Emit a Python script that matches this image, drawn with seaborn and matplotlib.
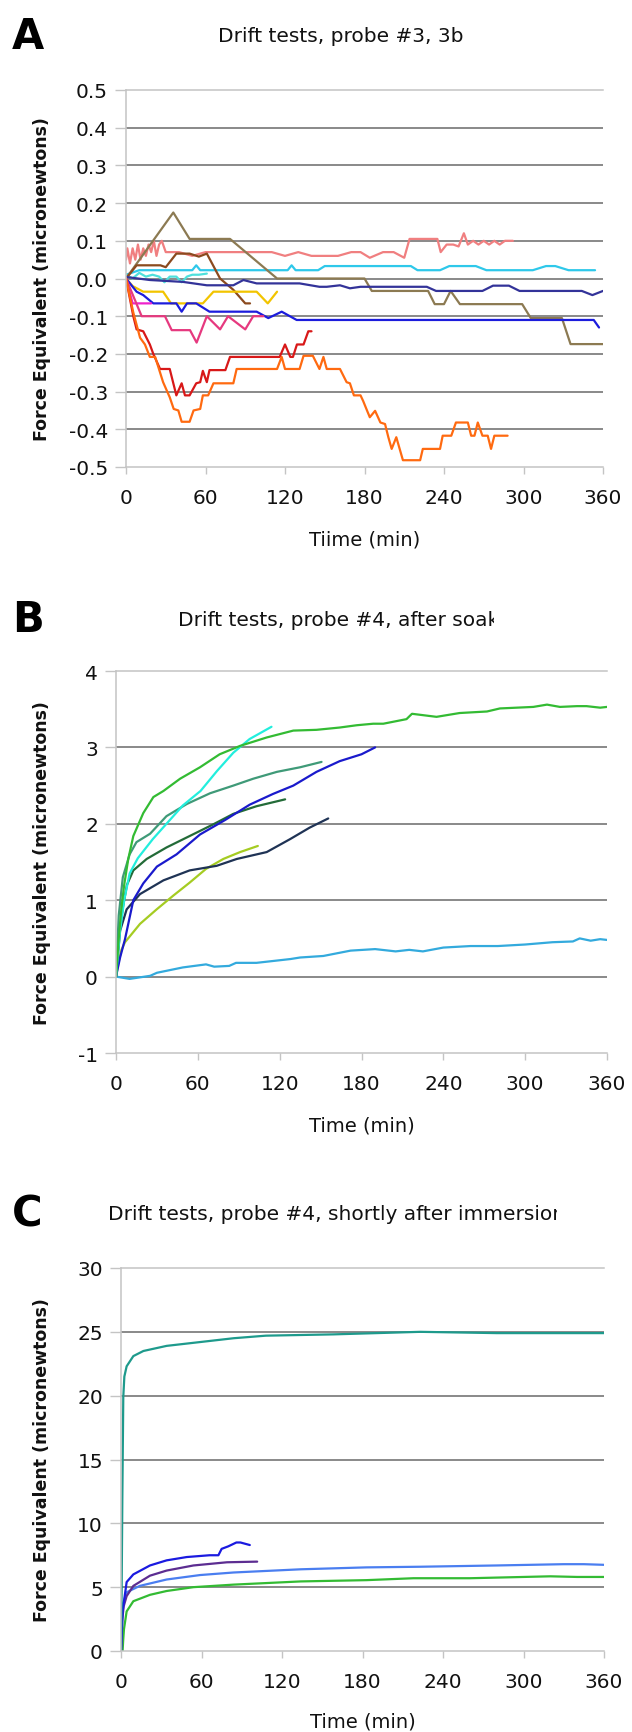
import pandas as pd
import seaborn as sns
from matplotlib import pyplot as plt
from matplotlib.patches import Rectangle

# ---------------- panel A: probe #3, 3b ----------------
a_salmon_t = [0, 1, 3, 5, 7, 9, 11, 13, 15, 17, 19, 21, 23, 25, 27, 30, 35, 40, 50, 60, 70, 80, 90,
              100, 110, 120, 130, 140, 150, 160, 170, 177, 184, 194, 202, 210, 214, 235, 237.5, 242,
              247, 251, 255, 258, 262, 266, 270, 274, 278, 282, 286, 292]
a_salmon_v = [0.05, 0.08, 0.04, 0.08, 0.05, 0.09, 0.05, 0.08, 0.06, 0.09, 0.07, 0.10, 0.06, 0.09, 0.10,
              0.07, 0.07, 0.07, 0.06, 0.07, 0.07, 0.07, 0.07, 0.07, 0.07, 0.06, 0.07, 0.06, 0.06, 0.06,
              0.07, 0.07, 0.055, 0.07, 0.07, 0.055, 0.105, 0.105, 0.07, 0.09, 0.09, 0.085, 0.12, 0.09,
              0.10, 0.09, 0.10, 0.09, 0.10, 0.09, 0.10, 0.10]
a_cyan_t = [0, 10, 50, 53, 56, 122, 125, 128, 145, 150, 215, 220, 237, 244, 264, 272, 307, 317, 324, 334, 354]
a_cyan_v = [0.01, 0.022, 0.022, 0.035, 0.022, 0.022, 0.035, 0.022, 0.022, 0.033, 0.033, 0.022, 0.022,
            0.033, 0.033, 0.022, 0.022, 0.033, 0.033, 0.022, 0.022]
a_turq_t = [0, 5, 10, 15, 20, 25, 29, 33, 38, 42, 46, 50, 55, 61]
a_turq_v = [0.01, 0.0, 0.015, 0.005, 0.01, 0.005, -0.01, 0.005, 0.005, -0.01, 0.005, 0.01, 0.01, 0.013]
a_olive_t = [0, 35.7, 48, 78.5, 114, 180, 185.5, 228, 233, 240, 245, 252, 299, 305.5, 329, 335.5, 360]
a_olive_v = [0, 0.175, 0.105, 0.105, 0.0, 0.0, -0.033, -0.033, -0.068, -0.068, -0.033, -0.068, -0.068,
             -0.105, -0.105, -0.174, -0.174]
a_brown_t = [0, 8, 15, 20, 26, 30, 38, 48, 55, 61, 71, 81, 90, 93.6]
a_brown_v = [0, 0.035, 0.035, 0.035, 0.035, 0.03, 0.066, 0.066, 0.058, 0.066, 0.0, -0.03, -0.066, -0.066]
a_navy_t = [0, 18, 43, 61, 81, 88.6, 98.6, 131, 146, 151.5, 161.5, 169, 177, 227, 234, 269, 277, 289,
            297, 344, 352, 360]
a_navy_v = [0.004, -0.004, -0.009, -0.018, -0.018, -0.004, -0.013, -0.013, -0.022, -0.022, -0.018,
            -0.026, -0.022, -0.022, -0.033, -0.033, -0.019, -0.019, -0.033, -0.033, -0.044, -0.033]
a_blue_t = [0, 8, 13, 20.6, 38, 42, 46, 53, 63, 98.6, 107.4, 117.5, 128.8, 353, 357]
a_blue_v = [0, -0.035, -0.044, -0.066, -0.066, -0.088, -0.066, -0.066, -0.088, -0.088, -0.105, -0.088,
            -0.11, -0.11, -0.13]
a_yellow_t = [0, 5, 13, 28, 34, 58, 66, 98.6, 107, 114]
a_yellow_v = [0, -0.02, -0.035, -0.035, -0.066, -0.066, -0.035, -0.035, -0.066, -0.035]
a_magenta_t = [0, 5, 19]
a_magenta_v = [0, -0.066, -0.066]
a_pink_t = [0, 11.8, 29.4, 34.5, 48.3, 53.3, 61, 71, 77, 90, 96, 103.7]
a_pink_v = [0, -0.1, -0.1, -0.137, -0.137, -0.17, -0.1, -0.135, -0.1, -0.135, -0.1, -0.1]
a_red_t = [0, 5.5, 8, 13, 18, 20.6, 25.7, 33, 38, 42, 44.5, 48, 53, 56, 58, 61, 63, 75, 78.5, 116,
           120, 124, 126, 129, 134, 137.6, 140]
a_red_v = [0, -0.1, -0.135, -0.14, -0.175, -0.2, -0.24, -0.24, -0.31, -0.278, -0.31, -0.31, -0.278,
           -0.275, -0.245, -0.275, -0.243, -0.243, -0.208, -0.208, -0.175, -0.208, -0.208, -0.175,
           -0.175, -0.14, -0.14]
a_orange_t = [0, 5.5, 10.6, 14.3, 18, 22, 28, 33, 36, 39.5, 42, 48, 51, 56, 58, 62, 66, 81, 83.5, 114,
              117.5, 120, 131, 134, 141, 146, 149, 151.5, 161.5, 166.5, 169, 172, 177, 179, 182, 184,
              188, 192, 195.5, 198, 200.5, 204, 209, 222, 224, 237, 239, 245.5, 249, 258, 260.5, 263,
              265.5, 269, 273, 275.5, 278, 288]
a_orange_v = [0, -0.09, -0.157, -0.175, -0.208, -0.208, -0.275, -0.315, -0.346, -0.35, -0.38, -0.38,
              -0.35, -0.346, -0.31, -0.31, -0.278, -0.278, -0.24, -0.24, -0.208, -0.24, -0.24, -0.205,
              -0.205, -0.24, -0.208, -0.24, -0.24, -0.275, -0.278, -0.31, -0.31, -0.325, -0.351,
              -0.368, -0.351, -0.382, -0.386, -0.421, -0.452, -0.421, -0.482, -0.482, -0.452, -0.452,
              -0.417, -0.417, -0.382, -0.382, -0.417, -0.417, -0.382, -0.417, -0.417, -0.452, -0.417,
              -0.417]

# ---------------- panel B: probe #4, after soak ----------------
b_green_t = [0, 2, 4, 6, 9, 12.7, 20, 27.4, 34.8, 47, 61.6, 76, 91, 110.5, 130, 147, 164, 176.5,
             188.6, 196, 213, 217, 235, 252, 272, 281.5, 306, 316, 325.5, 338, 345, 355, 360]
b_green_v = [0, 0.5, 0.9, 1.2, 1.54, 1.84, 2.14, 2.35, 2.43, 2.59, 2.74, 2.91, 3.02, 3.13, 3.22, 3.23,
             3.26, 3.29, 3.31, 3.31, 3.37, 3.44, 3.40, 3.45, 3.47, 3.51, 3.53, 3.56, 3.53, 3.54, 3.54,
             3.52, 3.53]
b_aqua_t = [0, 3, 6, 10, 16, 27, 40, 49, 62, 74, 86, 98, 114]
b_aqua_v = [0, 0.6, 1.0, 1.35, 1.55, 1.8, 2.06, 2.24, 2.43, 2.69, 2.93, 3.11, 3.27]
b_sea_t = [0, 2, 5, 10, 15, 25, 37, 52, 69, 86, 100.6, 118, 135, 150.7]
b_sea_v = [0, 0.8, 1.3, 1.6, 1.76, 1.87, 2.1, 2.26, 2.4, 2.5, 2.59, 2.68, 2.74, 2.81]
b_blue_t = [0, 3, 6.6, 12.7, 20, 30, 44.4, 61.6, 80, 98, 115, 130, 147, 164, 180, 190]
b_blue_v = [0, 0.25, 0.49, 1.0, 1.22, 1.44, 1.6, 1.86, 2.05, 2.25, 2.39, 2.5, 2.68, 2.82, 2.91, 3.0]
b_dkgreen_t = [0, 2, 5, 8, 12.7, 22.5, 37, 54, 71, 86, 103, 124]
b_dkgreen_v = [0, 0.5, 0.9, 1.2, 1.39, 1.54, 1.69, 1.84, 1.99, 2.13, 2.23, 2.32]
b_slate_t = [0, 3, 7.8, 17.6, 34.8, 54, 73.8, 88.6, 110.5, 127.7, 142, 155.6]
b_slate_v = [0, 0.6, 0.88, 1.08, 1.26, 1.39, 1.45, 1.54, 1.63, 1.8, 1.95, 2.07]
b_lime_t = [0, 2, 4, 6.6, 17.6, 29.8, 42, 54, 66, 78.7, 91, 104]
b_lime_v = [0, 0.2, 0.35, 0.45, 0.69, 0.88, 1.06, 1.23, 1.41, 1.54, 1.63, 1.71]
b_sky_t = [0, 10, 25, 30, 49, 66, 72, 83, 88, 103, 128, 135, 152, 172, 190, 205, 215, 225, 240, 260,
           280, 300, 320, 335, 340, 348, 355, 360]
b_sky_v = [0, -0.03, 0.01, 0.05, 0.12, 0.16, 0.13, 0.14, 0.18, 0.18, 0.23, 0.25, 0.27, 0.34, 0.36,
           0.33, 0.35, 0.33, 0.38, 0.4, 0.4, 0.42, 0.45, 0.46, 0.5, 0.47, 0.49, 0.48]

# ---------------- panel C: probe #4, shortly after immersion ----------------
c_teal_t = [0, 0.5, 1, 1.7, 2.5, 4.2, 9.2, 16.7, 34, 59, 84, 108, 158, 223, 280, 360]
c_teal_v = [0, 5, 12, 19.9, 21.5, 22.3, 23.1, 23.5, 23.9, 24.2, 24.5, 24.7, 24.8, 25.0, 24.9, 24.9]
c_blue_t = [0, 1.2, 4.2, 9.2, 21.6, 34, 49, 66, 72.6, 75, 80, 86, 89, 96]
c_blue_v = [0, 3.1, 5.4, 6.0, 6.7, 7.1, 7.36, 7.5, 7.5, 8.0, 8.2, 8.5, 8.5, 8.3]
c_purple_t = [0, 1, 2, 4.2, 9.2, 21.6, 34, 54, 79, 101.5]
c_purple_v = [0, 2.5, 3.5, 4.3, 5.1, 5.9, 6.3, 6.7, 6.95, 7.0]
c_sky_t = [0, 0.5, 1.2, 4.2, 14, 34, 59, 84, 134, 183, 223, 280, 330, 345, 360]
c_sky_v = [0, 2, 3.6, 4.6, 5.1, 5.6, 5.95, 6.15, 6.4, 6.55, 6.6, 6.7, 6.8, 6.8, 6.75]
c_green_t = [0, 1.2, 1.6, 2.2, 4.2, 9.2, 21.6, 34, 54, 84, 134, 183, 218, 260, 300, 320, 340, 360]
c_green_v = [0, 0, 0.8, 1.7, 3.1, 3.9, 4.4, 4.7, 5.0, 5.2, 5.45, 5.55, 5.7, 5.7, 5.8, 5.85, 5.8, 5.8]

x_ticks = [0, 60, 120, 180, 240, 300, 360]


def long_frame(series):
    """Stack (name, t, v) series into one long DataFrame for seaborn."""
    frames = [pd.DataFrame({"t": t, "v": v, "series": name}) for name, t, v in series]
    return pd.concat(frames, ignore_index=True)


panel_a = long_frame([
    ("salmon", a_salmon_t, a_salmon_v), ("cyan", a_cyan_t, a_cyan_v), ("turq", a_turq_t, a_turq_v),
    ("olive", a_olive_t, a_olive_v), ("brown", a_brown_t, a_brown_v), ("navy", a_navy_t, a_navy_v),
    ("yellow", a_yellow_t, a_yellow_v), ("blue", a_blue_t, a_blue_v),
    ("magenta", a_magenta_t, a_magenta_v), ("pink", a_pink_t, a_pink_v),
    ("red", a_red_t, a_red_v), ("orange", a_orange_t, a_orange_v),
])
colors_a = {"salmon": "#f07f80", "cyan": "#2ec8ea", "turq": "#4fe0dc", "olive": "#8c7a52",
            "brown": "#8b4a1e", "navy": "#333399", "yellow": "#f2c400", "blue": "#1c1cdc",
            "magenta": "#ee22cc", "pink": "#e6397f", "red": "#d81818", "orange": "#ff6a10"}

panel_b = long_frame([
    ("sky", b_sky_t, b_sky_v), ("lime", b_lime_t, b_lime_v), ("slate", b_slate_t, b_slate_v),
    ("dkgreen", b_dkgreen_t, b_dkgreen_v), ("blue", b_blue_t, b_blue_v), ("sea", b_sea_t, b_sea_v),
    ("aqua", b_aqua_t, b_aqua_v), ("green", b_green_t, b_green_v),
])
colors_b = {"sky": "#33aadd", "lime": "#a5cc22", "slate": "#1f3355", "dkgreen": "#236b38",
            "blue": "#1a1acc", "sea": "#3f9a78", "aqua": "#22eedd", "green": "#33bb33"}

panel_c = long_frame([
    ("green", c_green_t, c_green_v), ("sky", c_sky_t, c_sky_v), ("purple", c_purple_t, c_purple_v),
    ("blue", c_blue_t, c_blue_v), ("teal", c_teal_t, c_teal_v),
])
colors_c = {"green": "#33bb33", "sky": "#4a7ef0", "purple": "#5c2d91", "blue": "#1a1ae0",
            "teal": "#1e9a8c"}

sns.set_style("white")
plt.rcParams["font.family"] = ["DejaVu Sans"]
plt.rcParams["axes.unicode_minus"] = False

W, H = 632, 1733
fig = plt.figure(figsize=(W / 100, H / 100), dpi=100)


def px_axes(left, top, right, bottom):
    return fig.add_axes([left / W, 1 - bottom / H, (right - left) / W, (bottom - top) / H])


def draw_panel(ax, df, palette, ylim, yticks, yfmt, xlabel, ylab_x, xlab_y):
    sns.lineplot(data=df, x="t", y="v", hue="series", hue_order=list(palette), palette=palette,
                 estimator=None, sort=False, legend=False, linewidth=1.6, ax=ax)
    ax.set_xlim(0, 360)
    ax.set_xticks(x_ticks)
    ax.set_ylim(*ylim)
    ax.set_yticks(yticks)
    ax.set_yticklabels([yfmt.format(y) for y in yticks])
    ax.set_axisbelow(True)
    ax.grid(axis="y", color="#6a6a6a", linewidth=1.1)
    ax.grid(axis="x", visible=False)
    gl = ax.get_ygridlines()
    gl[0].set_visible(False)
    gl[-1].set_visible(False)
    for side in ["top", "bottom", "left"]:
        ax.spines[side].set_visible(True)
        ax.spines[side].set_color("#c4c4c4")
        ax.spines[side].set_linewidth(1.1)
    ax.spines["right"].set_visible(False)
    ax.tick_params(axis="x", bottom=True, length=5, width=1, color="#c4c4c4", pad=10,
                   labelsize=14.5, labelcolor="#111111")
    ax.tick_params(axis="y", left=True, length=8, width=1, color="#c4c4c4", pad=5,
                   labelsize=14.5, labelcolor="#111111")
    ax.set_xlabel(xlabel, fontsize=14, color="#111111")
    ax.set_ylabel("Force Equivalent (micronewtons)", fontsize=12.5, fontweight="bold",
                  color="#111111")
    ax.xaxis.set_label_coords(0.5, xlab_y)
    ax.xaxis.label.set_va("center")
    ax.yaxis.set_label_coords(ylab_x, 0.5)
    ax.yaxis.label.set_va("center")


def panel_title(letter, title, top_px, title_left, clip_right):
    fig.text(12 / W, 1 - top_px / H, letter, fontsize=30, fontweight="bold",
             va="center", ha="left", color="black")
    t = fig.text(title_left / W, 1 - top_px / H, title, fontsize=14.5, va="center", ha="left",
                 color="#111111")
    # the source text boxes cut the last letter off
    t.set_clip_path(Rectangle((0, 0), clip_right / W, 1, transform=fig.transFigure))


ax_a = px_axes(126, 91, 603, 468)
draw_panel(ax_a, panel_a, colors_a, (-0.5, 0.5),
           [-0.5, -0.4, -0.3, -0.2, -0.1, 0.0, 0.1, 0.2, 0.3, 0.4, 0.5], "{:.1f}",
           "Tiime (min)", (42 - 126) / 477, -72 / 377)
panel_title("A", "Drift tests, probe #3, 3b", 37, 218, 472)

ax_b = px_axes(116, 672, 607, 1054)
draw_panel(ax_b, panel_b, colors_b, (-1, 4), [-1, 0, 1, 2, 3, 4], "{:d}",
           "Time (min)", (42 - 116) / 491, -72 / 382)
panel_title("B", "Drift tests, probe #4, after soak", 620, 178, 494)

ax_c = px_axes(121, 1269, 604, 1652)
draw_panel(ax_c, panel_c, colors_c, (0, 30), [0, 5, 10, 15, 20, 25, 30], "{:d}",
           "Time (min)", (42 - 121) / 483, -70 / 383)
panel_title("C", "Drift tests, probe #4, shortly after immersion", 1215, 108, 557)

fig.savefig("out.png", dpi=100)
